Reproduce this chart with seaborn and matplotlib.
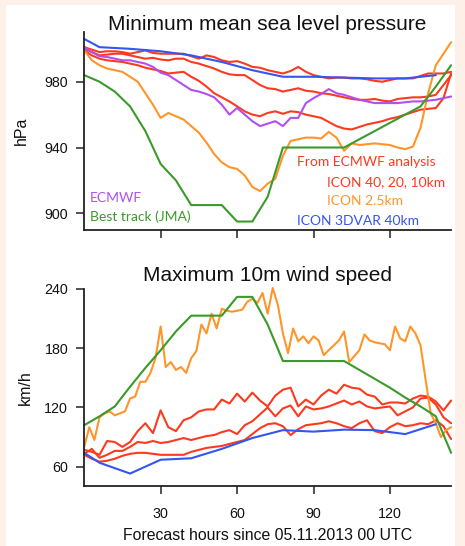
import numpy as np
import pandas as pd
import seaborn as sns
import matplotlib.pyplot as plt
from matplotlib.patches import Rectangle

# %% data
hours_3h = list(range(0, 145, 3))
hours_2h = list(range(0, 145, 2))
track_hours = list(range(0, 145, 6))
var_hours = [0, 6, 18, 30, 42, 54, 66, 78, 90, 102, 114, 126, 138]

# minimum mean sea level pressure (hPa)
slp_ecmwf = [1001, 998, 995.5, 995, 994, 993, 993, 992, 991, 989, 985.5, 984, 981, 978, 975, 974,
             972.5, 970.5, 966, 960, 964, 960, 956, 953, 954.5, 956, 953, 958, 958, 967, 970, 972.5,
             975.5, 973, 972, 970.5, 969, 968, 967, 967, 967, 967, 967.5, 968, 968, 968.5, 969, 970, 971]
slp_icon40 = [1001, 999.5, 998, 998.5, 998.5, 998, 997, 998, 999, 997.5, 997, 997, 997, 997, 995.5, 994,
              996, 995, 993, 992, 992.5, 991, 989, 988.5, 987, 986, 985, 986.5, 989, 986, 984, 983,
              982, 982.5, 982.5, 982, 982, 981.5, 980.5, 980, 981, 982, 982, 982, 983.5, 985, 985, 985, 986]
slp_icon20 = [1000, 998, 996, 996.5, 997, 997, 996, 995, 994, 994.5, 993.5, 993, 994, 994, 992, 991,
              989.5, 988, 986, 984.5, 984, 984, 981, 978, 976, 975.5, 974, 975, 976, 974.5, 974, 973,
              972.5, 971.5, 970.5, 969.5, 969, 969, 969.5, 968.5, 968, 969.5, 970, 970.5, 970.5, 971, 972, 978, 984]
slp_icon10 = [999, 996, 994, 993, 992.5, 992, 991, 990, 988.5, 987.5, 986.5, 985, 985.5, 986, 983, 980.5,
              977, 973, 970.5, 968, 965, 962, 960, 959, 961, 962, 960.5, 962, 961.5, 960, 959, 958,
              955.5, 953, 951.5, 951, 952.5, 954, 955, 956, 957.5, 958.5, 960, 961.5, 963, 963.5, 964, 970, 985]
slp_icon2p5 = [999, 993, 990, 988, 987, 986, 983, 980, 973, 966, 958, 961, 959, 957, 953, 949,
               943, 936, 931, 928, 927, 923, 916, 913.5, 918, 921, 935, 944, 945, 946, 946, 945.5,
               949.5, 946, 938, 942.5, 941.5, 942, 942.5, 942, 941.5, 940, 939, 940.5, 952, 973, 990, 997, 1004]
slp_3dvar = [1006, 1001, 1000, 998.5, 996, 992, 987, 983, 983, 982.5, 982, 982, 984]
slp_best = [984, 980, 974, 965, 950, 930, 920, 905, 905, 905, 895, 895, 910, 940, 940, 940, 940, 940,
            945, 950, 955, 960, 965, 977, 990]

# maximum 10m wind speed (km/h)
wind_icon40 = [72, 68, 65, 66, 68, 71, 73, 74, 74, 73, 72, 72, 72, 72, 75, 77, 79, 80, 81, 83, 85, 87,
               93, 99, 103, 104, 101, 92, 98, 102, 103, 104, 106, 104, 101, 99, 104, 107, 96, 94, 100,
               104, 101, 102, 104, 103, 107, 101, 88]
wind_icon20 = [73, 78, 69, 72, 76, 76, 80, 85, 84, 86, 84, 85, 87, 89, 87, 89, 91, 92, 95, 97, 93, 102,
               106, 113, 120, 111, 119, 122, 111, 121, 118, 119, 121, 124, 127, 123, 126, 121, 119, 120,
               121, 112, 116, 120, 129, 130, 123, 110, 104]
wind_icon10 = [77, 75, 72, 86, 85, 80, 85, 96, 104, 94, 117, 100, 96, 107, 110, 116, 118, 118, 128, 124,
               134, 126, 135, 127, 121, 132, 138, 140, 121, 128, 123, 132, 138, 134, 143, 140, 139, 133,
               131, 123, 125, 125, 124, 129, 132, 131, 126, 117, 127]
wind_icon2p5 = [80, 100, 87, 110, 114, 116, 112, 114, 116, 129, 131, 146, 146,
                155, 170, 202, 161, 166, 158, 161, 155, 170, 177, 204, 195,
                215, 200, 220, 218, 217, 218, 219, 227, 230, 226, 236, 215,
                241, 224, 195, 175, 200, 187, 192, 185, 192, 188, 173, 178,
                183, 188, 197, 166, 172, 178, 194, 188, 186, 185, 184, 178,
                202, 190, 187, 202, 195, 183, 148, 114, 104, 90, 97, 100]
wind_3dvar = [74, 64, 53, 67, 68.5, 78, 89, 97, 95.5, 97.5, 97, 93, 103]
wind_best = [102, 111, 121, 141, 160, 178, 197, 213, 213, 213, 232, 232, 204, 167, 167, 167, 167, 167,
             158, 149, 140, 130, 121, 111, 74]

c_red = '#fb3a1f'
c_orange = '#ff952a'
c_green = '#3a9a2a'
c_blue = '#3455f0'
c_purple = '#b04ff2'

sns.set_style('ticks')
plt.rcParams['font.family'] = ['Liberation Sans', 'DejaVu Sans']

W, H = 465, 546
fig = plt.figure(figsize=(W / 100, H / 100), dpi=100, facecolor='#fdf0e8')
fig.patches.append(Rectangle((6 / W, 0), 449 / W, 1 - 5 / H, transform=fig.transFigure,
                             facecolor='white', edgecolor='none', zorder=-10))

ax1 = fig.add_axes([84.2 / W, 1 - 229.75 / H, 366.9 / W, 197.4 / H])
ax2 = fig.add_axes([84.2 / W, 1 - 486.4 / H, 366.9 / W, 197.4 / H])

lw = 1.5
sets = [
    (ax1, [(hours_3h, slp_icon40, c_red), (hours_3h, slp_icon20, c_red), (hours_3h, slp_icon10, c_red),
           (hours_3h, slp_icon2p5, c_orange), (hours_3h, slp_ecmwf, c_purple),
           (track_hours, slp_best, c_green), (var_hours, slp_3dvar, c_blue)]),
    (ax2, [(hours_3h, wind_icon40, c_red), (hours_3h, wind_icon20, c_red), (hours_3h, wind_icon10, c_red),
           (hours_2h, wind_icon2p5, c_orange), (track_hours, wind_best, c_green),
           (var_hours, wind_3dvar, c_blue)]),
]
for ax, series in sets:
    ax.set_facecolor('none')
    for x, y, c in series:
        sns.lineplot(x=x, y=y, ax=ax, color=c, linewidth=lw, legend=False, clip_on=False)
    ax.set_xlim(0, 144)
    ax.set_xticks([30, 60, 90, 120])
    sns.despine(ax=ax)
    for s in ['left', 'bottom']:
        ax.spines[s].set_color('#222222')
        ax.spines[s].set_linewidth(1.3)
    ax.tick_params(direction='out', length=5.5, width=1.1, color='#222222',
                   labelsize=10.3, labelcolor='#111111')
    ax.tick_params(axis='y', pad=6)
    ax.tick_params(axis='x', pad=9)
    ax.set_xlabel('')
    ax.set_ylabel('')

ax1.set_ylim(890, 1010)
ax1.set_yticks([900, 940, 980])
ax1.set_xticklabels([])
ax2.set_ylim(40, 240)
ax2.set_yticks([60, 120, 180, 240])

fig.text(267.5 / W, 1 - 30 / H, 'Minimum mean sea level pressure', ha='center', va='baseline',
         fontsize=15, color='#111111')
fig.text(267.5 / W, 1 - 281 / H, 'Maximum 10m wind speed', ha='center', va='baseline',
         fontsize=15, color='#111111')
fig.text(267.5 / W, 1 - 540 / H, 'Forecast hours since 05.11.2013 00 UTC', ha='center', va='baseline',
         fontsize=11.4, color='#111111')
fig.text(21 / W, 1 - 131 / H, 'hPa', rotation=90, ha='center', va='center', fontsize=11.5, color='#111111')
fig.text(25 / W, 1 - 388 / H, 'km/h', rotation=90, ha='center', va='center', fontsize=11.5, color='#111111')

lab_font = ['Lato', 'DejaVu Sans']
labels = [
    (0.016, 0.161, 'ECMWF', c_purple),
    (0.016, 0.065, 'Best track (JMA)', c_green),
    (0.579, 0.343, 'From ECMWF analysis', c_red),
    (0.661, 0.243, 'ICON 40, 20, 10km', c_red),
    (0.661, 0.147, 'ICON 2.5km', c_orange),
    (0.579, 0.046, 'ICON 3DVAR 40km', c_blue),
]
for x, y, t, c in labels:
    ax1.text(x, y, t, transform=ax1.transAxes, ha='left', va='center', fontsize=10,
             color=c, family=lab_font)

fig.savefig('out.png', dpi=100, facecolor=fig.get_facecolor())
